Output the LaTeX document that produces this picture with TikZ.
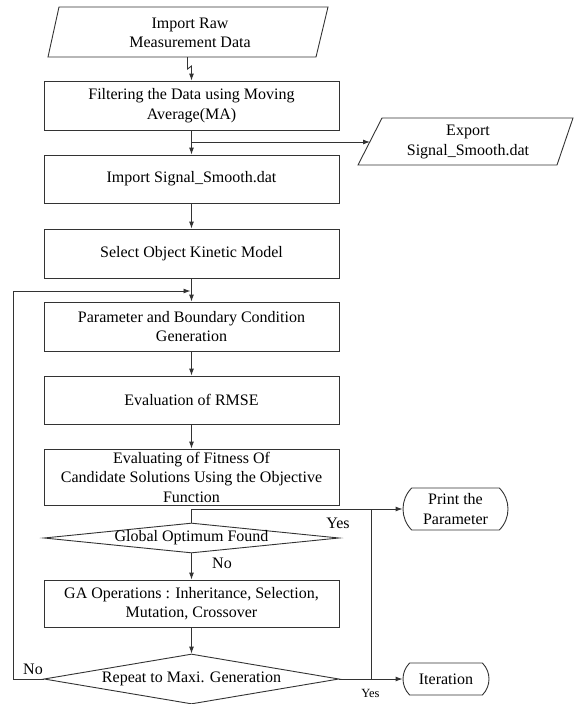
\documentclass[tikz,border=0pt]{standalone}
\usepackage{fontspec}
\setmainfont{Liberation Serif}
\usetikzlibrary{arrows.meta,shapes.geometric,shapes.misc}
\tikzset{
  ln/.style={draw=black!80, line width=0.9pt},
  arr/.style={ln, -{Latex[length=7pt,width=5pt]}},
  txt/.style={font=\fontsize{16}{19.5}\selectfont, align=center, inner sep=0pt, text=black},
  box/.style={txt, ln, rectangle, minimum width=295pt},
  stad/.style={txt, ln, rounded rectangle, rounded rectangle arc length=90},
  dia/.style={ln, diamond, inner sep=0pt, minimum width=295pt},
  lbl/.style={font=\fontsize{16}{19}\selectfont, inner sep=0pt, text=black},
  slbl/.style={font=\fontsize{12.5}{14}\selectfont, inner sep=0pt, text=black}
}
\begin{document}
\begin{tikzpicture}[x=1pt,y=-1pt]
\useasboundingbox (0,0) rectangle (574,704);
\fill[white] (0,0) rectangle (574,704);

% input parallelogram
\draw[ln] (59,7) -- (328,7) -- (316,57) -- (48,57) -- cycle;
\node[txt] (raw) at (190,33) {Import Raw\\Measurement Data};
\coordinate (rawb) at (187.5,57);
\coordinate (rawj) at (187.5,69);

\node[box, minimum height=49pt] (filt) at (191.5,105.5) {Filtering the Data using Moving\\Average(MA)};

% export parallelogram
\draw[ln] (382,118) -- (573,118) -- (557,165) -- (358,165) -- cycle;
\node[txt] (exp) at (468,142) {Export\\Signal\_Smooth.dat};
\coordinate (expl) at (370,142);

\node[box, minimum height=48pt] (imps) at (191.5,179) {Import Signal\_Smooth.dat};
\node[box, minimum height=49pt] (sel) at (191.5,253.5) {Select Object Kinetic Model};
\node[box, minimum height=49pt] (par) at (191.5,326.5) {Parameter and Boundary Condition\\Generation};
\node[box, minimum height=48pt] (rmse) at (191.5,400) {Evaluation of RMSE};
\node[box, minimum height=56pt] (eval) at (191.5,477) {Evaluating of Fitness Of\\Candidate Solutions Using the Objective\\Function};

\node[dia, minimum height=30pt] (glob) at (191.5,538) {};
\node[txt] (globt) at (191.5,538) {Global Optimum Found};

\node[box, minimum height=47pt] (ga) at (191.5,603.5) {GA Operations : Inheritance, Selection,\\Mutation, Crossover};

\node[dia, minimum height=50pt] (rep) at (191.5,679) {};
\node[txt] (rept) at (191.5,679) {Repeat to Maxi. Generation};

\node[stad, minimum width=105pt, minimum height=42pt] (print) at (455.5,509) {Print the\\Parameter};
\node[stad, minimum width=86pt, minimum height=32pt] (iter) at (446,679) {Iteration};

\coordinate (loopc) at (13,291);
\coordinate (j1) at (371,509);

% connectors
\draw[arr] (rawb) -- (rawj) -- ([yshift=3pt]rawj -| filt.north) -- (filt.north);
\draw[arr] (filt.south) -- (imps.north);
\draw[arr] (filt.south |- expl) -- (expl);
\draw[arr] (imps.south) -- (sel.north);
\draw[arr] (sel.south) -- (par.north);
\draw[arr] (par.south) -- (rmse.north);
\draw[arr] (rmse.south) -- (eval.north);
\draw[arr] (glob.north) |- (print.west);
\draw[arr] (glob.south) -- (ga.north);
\draw[arr] (ga.south) -- (rep.north);
\draw[arr] (rep.east) -- (iter.west);
\draw[ln] (j1) -- (j1 |- rep.east);
\draw[ln] (rep.west) -| (loopc);
\draw[arr] (loopc) -- ([xshift=-1pt]par.north |- loopc);

% labels
\node[lbl] (yes1) at (338,523) {Yes};
\node[lbl] (no1) at (222,563) {No};
\node[lbl] (no2) at (33,669) {No};
\node[slbl] (yes2) at (370.5,693) {Yes};
\end{tikzpicture}
\end{document}
